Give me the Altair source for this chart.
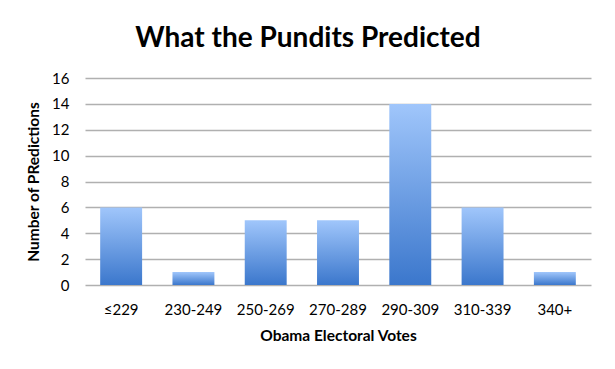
import altair as alt
import pandas as pd

categories = ["≤229", "230-249", "250-269", "270-289", "290-309", "310-339", "340+"]
predictions = [6, 1, 5, 5, 14, 6, 1]
y_ticks = [0, 2, 4, 6, 8, 10, 12, 14, 16]

df = pd.DataFrame({"bin": categories, "count": predictions})

FONT = "Lato"

gradient = alt.Gradient(
    gradient="linear",
    stops=[
        alt.GradientStop(color="#a0c6fb", offset=0),
        alt.GradientStop(color="#3b77cc", offset=1),
    ],
    x1=0, x2=0, y1=0, y2=1,
)

chart = (
    alt.Chart(df)
    .mark_bar(color=gradient)
    .encode(
        x=alt.X(
            "bin:N",
            sort=categories,
            scale=alt.Scale(paddingInner=0.42, paddingOuter=0.21),
            axis=alt.Axis(
                title="Obama Electoral Votes",
                labelAngle=0,
                ticks=False,
                domain=False,
                grid=False,
                labelPadding=17,
                titlePadding=11,
            ),
        ),
        y=alt.Y(
            "count:Q",
            scale=alt.Scale(domain=[0, 16], nice=False),
            axis=alt.Axis(
                title="Number of PRedictions",
                values=y_ticks,
                ticks=False,
                domain=False,
                labelPadding=16,
                titlePadding=10,
            ),
        ),
    )
    .properties(
        width=506,
        height=207,
        padding={"left": 77, "top": 70, "right": 16, "bottom": 76},
        autosize=alt.AutoSizeParams(type="none"),
        title=alt.TitleParams(
            "What the Pundits Predicted",
            anchor="middle",
            frame="group",
            dx=-30,
            offset=18,
            fontSize=28,
            font=FONT,
            fontWeight="bold",
            color="#000000",
        ),
    )
    .configure_view(stroke=None)
    .configure_axis(
        labelFont=FONT,
        titleFont=FONT,
        labelFontSize=15,
        titleFontSize=15.5,
        labelColor="#000000",
        titleColor="#000000",
        titleFontWeight="bold",
        gridColor="#b0b0b0",
        gridWidth=1.5,
        gridOpacity=1,
    )
)

chart.save("out.html", embed_options={"renderer": "svg", "actions": False})
